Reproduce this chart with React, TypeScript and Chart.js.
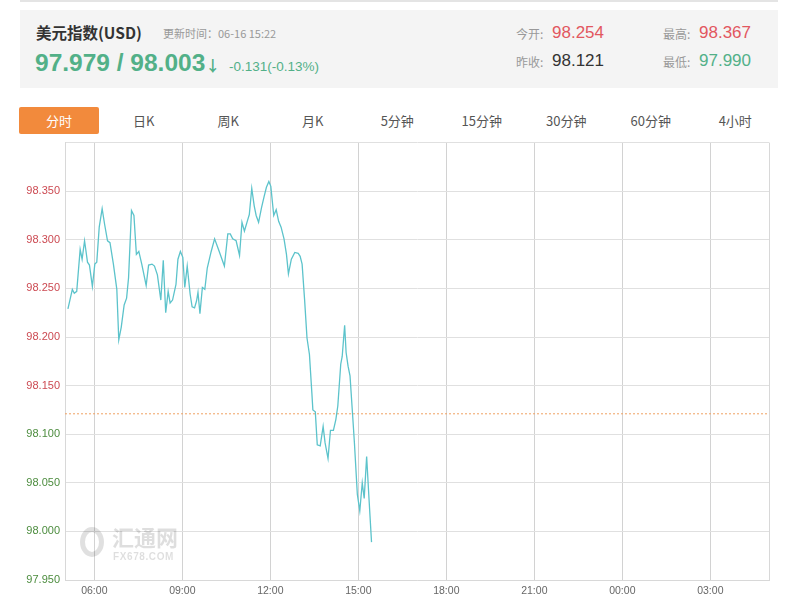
import React, { useEffect, useRef } from 'react';
import { Chart, registerables } from 'chart.js';

Chart.register(...registerables);

// ---- data ----
const SESSION_START = '05:00';
const SESSION_MINUTES = 1440;

const TIMES = [
  '05:06', '05:15', '05:19', '05:24', '05:31', '05:35', '05:40', '05:46', '05:50', '05:56',
  '06:01', '06:05', '06:10', '06:16', '06:21', '06:27', '06:32', '06:39', '06:46', '06:50',
  '06:55', '07:01', '07:06', '07:10', '07:16', '07:21', '07:26', '07:31', '07:37', '07:46',
  '07:51', '07:58', '08:03', '08:09', '08:16', '08:21', '08:26', '08:31', '08:35', '08:40',
  '08:47', '08:51', '08:56', '09:01', '09:05', '09:10', '09:16', '09:20', '09:25', '09:29',
  '09:32', '09:36', '09:41', '09:46', '09:51', '09:59', '10:06', '10:14', '10:26', '10:33',
  '10:38', '10:43', '10:50', '10:57', '11:02', '11:07', '11:14', '11:17', '11:22', '11:27',
  '11:31', '11:36', '11:42', '11:47', '11:52', '11:57', '12:01', '12:07', '12:12', '12:17',
  '12:22', '12:28', '12:33', '12:37', '12:43', '12:50', '12:57', '13:01', '13:05', '13:10',
  '13:15', '13:20', '13:25', '13:27', '13:32', '13:36', '13:42', '13:48', '13:52', '13:58',
  '14:03', '14:09', '14:14', '14:18', '14:24', '14:27', '14:32', '14:35', '14:39', '14:43',
  '14:48', '14:52', '14:58', '15:03', '15:08', '15:12', '15:17', '15:22', '15:27',
];

const PRICES = [
  98.229, 98.249, 98.245, 98.247, 98.290, 98.280, 98.299, 98.277, 98.274, 98.252,
  98.275, 98.277, 98.313, 98.332, 98.316, 98.299, 98.297, 98.275, 98.249, 98.197,
  98.210, 98.233, 98.240, 98.261, 98.330, 98.325, 98.285, 98.288, 98.275, 98.253,
  98.274, 98.275, 98.273, 98.264, 98.238, 98.279, 98.225, 98.247, 98.235, 98.238,
  98.254, 98.280, 98.288, 98.282, 98.251, 98.273, 98.244, 98.231, 98.230, 98.237,
  98.246, 98.224, 98.251, 98.249, 98.271, 98.288, 98.301, 98.290, 98.273, 98.306,
  98.306, 98.301, 98.299, 98.284, 98.318, 98.309, 98.321, 98.326, 98.353, 98.335,
  98.325, 98.318, 98.333, 98.344, 98.354, 98.360, 98.355, 98.325, 98.331, 98.319,
  98.313, 98.301, 98.285, 98.265, 98.280, 98.287, 98.286, 98.283, 98.275, 98.239,
  98.199, 98.182, 98.142, 98.125, 98.123, 98.089, 98.088, 98.108, 98.091, 98.075,
  98.104, 98.104, 98.115, 98.129, 98.172, 98.180, 98.212, 98.184, 98.170, 98.160,
  98.122, 98.091, 98.038, 98.021, 98.050, 98.034, 98.077, 98.032, 97.989,
];

const PREV_CLOSE = 98.121;
const X_TICK_LABELS = ['06:00', '09:00', '12:00', '15:00', '18:00', '21:00', '00:00', '03:00'];
const Y_MIN = 97.95;
const Y_MAX = 98.4;
const Y_STEP = 0.05;

const TITLE = '美元指数(USD)';
const UPDATE_TIME = '更新时间：06-16 15:22';
const LAST_PRICE = '97.979 / 98.003';
const CHANGE = '-0.131(-0.13%)';
const OPEN = '98.254';
const HIGH = '98.367';
const PREV = '98.121';
const LOW = '97.990';
const TABS = ['分时', '日K', '周K', '月K', '5分钟', '15分钟', '30分钟', '60分钟', '4小时'];

// ---- helpers ----
const toMin = (t: string) => {
  const [h, m] = t.split(':').map(Number);
  const [sh, sm] = SESSION_START.split(':').map(Number);
  return (h * 60 + m - (sh * 60 + sm) + 1440) % 1440;
};
const fmtMin = (v: number) => {
  const [sh, sm] = SESSION_START.split(':').map(Number);
  const t = (sh * 60 + sm + Math.round(v)) % 1440;
  const h = Math.floor(t / 60);
  const m = t % 60;
  return `${String(h).padStart(2, '0')}:${String(m).padStart(2, '0')}`;
};

const RED = '#e2575f';
const GREEN = '#52b088';
const CN = '"Noto Sans CJK SC", "Liberation Sans", sans-serif';
const NUM = '"Liberation Sans", Arial, sans-serif';

const framePlugin = {
  id: 'frame',
  afterDraw(chart: any) {
    const { ctx, chartArea: a } = chart;
    ctx.save();
    ctx.strokeStyle = '#d8d8d8';
    ctx.lineWidth = 1;
    ctx.beginPath();
    ctx.moveTo(Math.round(a.right) + 0.5, a.top);
    ctx.lineTo(Math.round(a.right) + 0.5, a.bottom);
    ctx.stroke();
    ctx.restore();
  },
};

export default function App() {
  const ref = useRef<HTMLCanvasElement>(null);

  useEffect(() => {
    if (!ref.current) return;
    const chart = new Chart(ref.current, {
      type: 'line',
      data: {
        datasets: [
          {
            data: TIMES.map((t, i) => ({ x: toMin(t), y: PRICES[i] })),
            borderColor: '#5cc3cb',
            borderWidth: 1.3,
            pointRadius: 0,
            tension: 0,
          },
          {
            data: [
              { x: 0, y: PREV_CLOSE },
              { x: SESSION_MINUTES, y: PREV_CLOSE },
            ],
            borderColor: '#f0a262',
            borderWidth: 1,
            borderDash: [2, 2],
            pointRadius: 0,
          },
        ],
      },
      options: {
        animation: false,
        responsive: false,
        maintainAspectRatio: false,
        layout: { padding: { top: 3, right: 24, bottom: 0, left: 0 } },
        plugins: { legend: { display: false }, tooltip: { enabled: false } },
        scales: {
          x: {
            type: 'linear',
            min: 0,
            max: SESSION_MINUTES,
            afterBuildTicks: (s: any) => {
              s.ticks = X_TICK_LABELS.map((l) => ({ value: toMin(l) }));
            },
            afterFit: (s: any) => {
              s.height = 20;
            },
            grid: { color: '#d2d2d2', drawTicks: false },
            border: { color: '#d8d8d8' },
            ticks: {
              padding: 5,
              color: '#666',
              autoSkip: false,
              maxRotation: 0,
              font: { family: NUM, size: 10.5 },
              callback: (v: any) => fmtMin(Number(v)),
            },
          },
          y: {
            min: Y_MIN,
            max: Y_MAX,
            afterFit: (s: any) => {
              s.width = 65;
            },
            grid: { color: '#e0e0e0', drawTicks: false },
            border: { color: '#d8d8d8' },
            ticks: {
              stepSize: Y_STEP,
              padding: 5,
              font: { family: NUM, size: 11 },
              color: (c: any) => (c.tick && c.tick.value > PREV_CLOSE ? '#cc4a52' : '#4c8c3e'),
              callback: (v: any) => (Math.abs(Number(v) - Y_MAX) < 1e-6 ? '' : Number(v).toFixed(3)),
            },
          },
        },
      },
      plugins: [framePlugin],
    } as any);
    return () => chart.destroy();
  }, []);

  const tabW = 84.5;

  return (
    <div
      style={{
        position: 'fixed',
        left: 0,
        top: 0,
        width: 793,
        height: 600,
        background: '#fff',
        overflow: 'hidden',
        fontFamily: CN,
      }}
    >
      <div style={{ position: 'absolute', left: 20, top: 0, width: 758, height: 2, background: '#e4e4e4' }} />
      <div style={{ position: 'absolute', left: 20, top: 10, width: 758, height: 78, background: '#f4f4f4' }} />
      <div style={{ position: 'absolute', left: 36, top: 21, fontSize: 15.5, fontWeight: 'bold', color: '#333', lineHeight: '22px' }}>
        {TITLE}
      </div>
      <div style={{ position: 'absolute', left: 163, top: 26, fontSize: 11, color: '#999', lineHeight: '14px' }}>{UPDATE_TIME}</div>
      <div
        style={{
          position: 'absolute',
          left: 35,
          top: 48,
          fontSize: 24.5,
          fontWeight: 'bold',
          color: GREEN,
          fontFamily: NUM,
          lineHeight: '30px',
          whiteSpace: 'nowrap',
        }}
      >
        {LAST_PRICE}
        <span style={{ fontSize: 15, fontFamily: CN }}>↓</span>
      </div>
      <div style={{ position: 'absolute', left: 229, top: 58, fontSize: 13.5, color: GREEN, fontFamily: NUM, lineHeight: '18px' }}>
        {CHANGE}
      </div>

      <div style={{ position: 'absolute', left: 516, top: 26, fontSize: 12, color: '#999', lineHeight: '16px' }}>今开:</div>
      <div style={{ position: 'absolute', left: 552, top: 22, fontSize: 17, color: RED, fontFamily: NUM, lineHeight: '22px' }}>{OPEN}</div>
      <div style={{ position: 'absolute', left: 663, top: 26, fontSize: 12, color: '#999', lineHeight: '16px' }}>最高:</div>
      <div style={{ position: 'absolute', left: 699, top: 22, fontSize: 17, color: RED, fontFamily: NUM, lineHeight: '22px' }}>{HIGH}</div>
      <div style={{ position: 'absolute', left: 516, top: 54, fontSize: 12, color: '#999', lineHeight: '16px' }}>昨收:</div>
      <div style={{ position: 'absolute', left: 552, top: 50, fontSize: 17, color: '#333', fontFamily: NUM, lineHeight: '22px' }}>{PREV}</div>
      <div style={{ position: 'absolute', left: 663, top: 54, fontSize: 12, color: '#999', lineHeight: '16px' }}>最低:</div>
      <div style={{ position: 'absolute', left: 699, top: 50, fontSize: 17, color: GREEN, fontFamily: NUM, lineHeight: '22px' }}>{LOW}</div>

      {TABS.map((t, i) => (
        <div
          key={t}
          style={{
            position: 'absolute',
            left: i === 0 ? 19 : 17 + i * tabW,
            top: 107,
            width: i === 0 ? 80 : tabW,
            height: 27,
            lineHeight: '27px',
            textAlign: 'center',
            fontSize: 13,
            color: i === 0 ? '#fff' : '#555',
            background: i === 0 ? '#f28a3c' : 'transparent',
            borderRadius: 2,
          }}
        >
          {t}
        </div>
      ))}

      <canvas ref={ref} width={793} height={469} style={{ position: 'absolute', left: 0, top: 131, width: 793, height: 469 }} />

      <div style={{ position: 'absolute', left: 80, top: 526, pointerEvents: 'none', color: 'rgba(0,0,0,0.13)' }}>
        <div
          style={{
            position: 'absolute',
            left: 0,
            top: 1,
            width: 24,
            height: 30,
            borderRadius: '50%',
            border: '5px solid rgba(0,0,0,0.12)',
            boxSizing: 'border-box',
          }}
        />
        <div style={{ position: 'absolute', left: 32, top: -4, fontSize: 22, fontWeight: 'bold', whiteSpace: 'nowrap', lineHeight: '28px' }}>
          汇通网
        </div>
        <div
          style={{
            position: 'absolute',
            left: 33,
            top: 25,
            fontSize: 10,
            fontWeight: 'bold',
            fontFamily: NUM,
            letterSpacing: 0.6,
            whiteSpace: 'nowrap',
            lineHeight: '12px',
          }}
        >
          FX678.COM
        </div>
      </div>
    </div>
  );
}
